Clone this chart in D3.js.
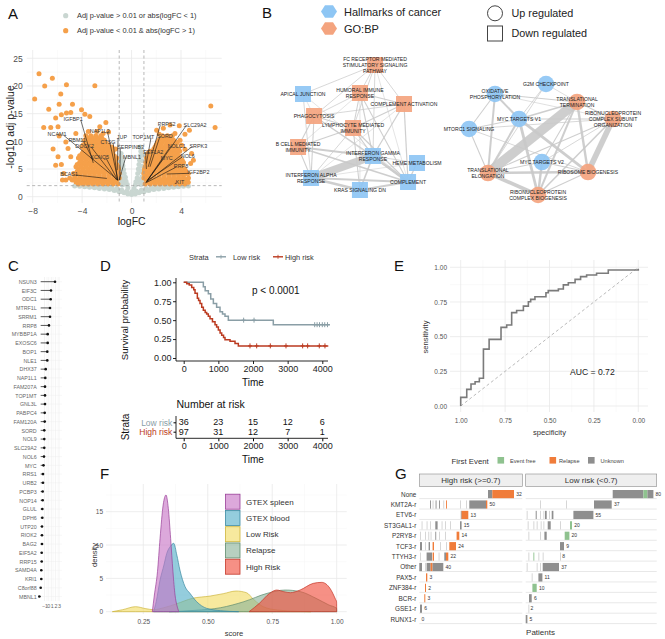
<!DOCTYPE html>
<html><head><meta charset="utf-8">
<script src="https://cdn.jsdelivr.net/npm/d3@7"></script>
<style>body{margin:0;background:#fff} svg{display:block;font-family:"Liberation Sans",Arial,sans-serif}</style>
</head><body><svg id="fig" width="665" height="639"></svg>
<script>
// ================= DATA =================
// Panel A: volcano (logFC, -log10 adj p)
const volcanoGrey = [[-4.6,1.95],[-4.2,1.9],[-3.8,1.8],[-3.4,1.7],[-3.0,1.6],[-2.6,1.5],[-2.2,1.4],[-1.8,1.3],[-1.4,1.1],[-1.0,0.9],[-0.6,0.7],[-0.3,0.5],[0,0.4],[0.3,0.5],[0.6,0.7],[1.0,0.9],[1.4,1.1],[1.8,1.3],[2.2,1.4],[2.6,1.5],[3.0,1.6],[3.4,1.7],[3.8,1.8],[4.2,1.9],[4.6,1.95],
[-3.6,1.95],[-3.2,1.9],[-2.8,1.9],[-2.4,1.85],[-2.0,1.8],[-1.6,1.7],[-1.2,1.5],[-0.8,1.2],[-0.4,1.0],[0,0.9],[0.4,1.0],[0.8,1.2],[1.2,1.5],[1.6,1.7],[2.0,1.8],[2.4,1.85],[2.8,1.9],[3.2,1.9],[3.6,1.95],
[-2.8,1.75],[-2.0,1.55],[-1.6,1.45],[-1.2,1.2],[-0.8,0.95],[0.8,0.95],[1.2,1.2],[1.6,1.45],[2.0,1.55],[2.8,1.75],
[-0.85,7.8],[-0.8,7.0],[-0.75,6.3],[-0.7,5.6],[-0.65,4.9],[-0.6,4.2],[-0.5,3.5],[-0.45,2.8],[-0.35,2.2],[-0.3,1.6],[-0.95,6.5],[-0.95,5.0],[-0.9,4.0],[-0.95,3.0],[-0.85,2.4],[-0.75,2.1],[-0.9,5.8],[-0.85,3.4],[-0.7,2.9],[-0.6,2.3],
[0.7,9.0],[0.75,8.2],[0.7,7.4],[0.65,6.6],[0.6,5.8],[0.55,5.0],[0.5,4.2],[0.45,3.4],[0.35,2.7],[0.3,2.1],[0.2,1.5],[0.9,7.5],[0.9,6.5],[0.85,5.5],[0.9,4.5],[0.85,3.6],[0.9,2.7],[0.75,2.2],[0.6,2.6],[0.7,3.2],[0.75,4.6]];
const volcanoOrangeSparse = [[-7.49,22.2],[-6.41,21.4],[-7.03,20.0],[-7.84,17.65],[-5.27,20.2],[-5.73,18.55],[-2.97,20.06],[-6.70,15.8],[-7.11,12.5],[-6.54,12.5],[-5.86,16.7],[-5.68,14.8],[-4.78,16.7],[-4.92,15.2],[-4.05,15.7],[-3.78,14.9],[-5.27,15.1],[-6.14,14.2],[-5.95,12.65],[-5.86,10.96],[-6.35,8.6],[-5.95,7.2],[-6.14,5.7],[-5.68,5.8],[-5.49,4.2],[-5.32,3.0],[-5.59,3.0],[-4.46,4.2],[-5.14,8.7],[-4.92,7.2],[-5.32,9.9],[-4.51,11.4],[-3.38,14.5],[-2.08,13.4],[-2.57,12.65],[-1.86,11.7],[-2.30,11.4],
[6.41,16.4],[6.76,12.5],[3.86,12.8],[4.68,12.0],[4.32,11.3],[3.51,11.4],[4.32,8.55],[4.86,7.8],[4.78,6.0],[5.0,6.6],[4.46,4.2],[3.92,3.0],[4.59,2.6],[2.03,12.0],[2.24,11.3],[2.57,12.35],[3.11,12.95],[3.92,10.2],[4.05,9.3],[3.59,9.0]];
const volcanoOrangeRows = [
 {p:2.3, fc:[-1.1,-1.5,-1.9,-2.3,-2.7,-3.1,-3.5,-3.9,-4.3, 1.1,1.5,1.9,2.3,2.7,3.1,3.5,3.9,4.3]},
 {p:2.65, fc:[-1.3,-1.7,-2.1,-2.5,-2.9,-3.3,-3.7,-4.1,-4.5, 1.3,1.7,2.1,2.5,2.9,3.3,3.7,4.1,4.5]},
 {p:3.0, fc:[-1.2,-1.6,-2.0,-2.4,-2.8,-3.2,-3.6,-4.0,-4.4,-4.8, 1.2,1.6,2.0,2.4,2.8,3.2,3.6,4.0,4.4]},
 {p:3.4, fc:[-1.0,-1.4,-1.8,-2.2,-2.6,-3.0,-3.4,-3.8,-4.2,-4.6,-5.0, 1.0,1.4,1.8,2.2,2.6,3.0,3.4,3.8,4.2,4.6]},
 {p:3.8, fc:[-1.1,-1.4,-1.8,-2.2,-2.6,-3.0,-3.4,-3.8,-4.2,-4.6, 1.1,1.4,1.8,2.2,2.6,3.0,3.4,3.8,4.2]},
 {p:4.2, fc:[-1.0,-1.4,-1.8,-2.2,-2.6,-3.0,-3.4,-3.8,-4.2,-4.7, 1.0,1.4,1.8,2.2,2.6,3.0,3.4,3.8,4.2,4.6]},
 {p:4.6, fc:[-1.2,-1.6,-2.0,-2.4,-2.8,-3.2,-3.6,-4.0,-4.4, 1.05,1.2,1.6,2.0,2.4,2.8,3.2,3.6,4.0,4.4]},
 {p:5.0, fc:[-1.05,-1.5,-1.9,-2.3,-2.7,-3.1,-3.5,-3.9,-4.3, 1.05,1.5,1.9,2.3,2.7,3.1,3.5,3.9,4.3]},
 {p:5.4, fc:[-1.1,-1.3,-1.7,-2.1,-2.5,-2.9,-3.3,-3.7,-4.1,-4.5, 1.1,1.3,1.7,2.1,2.5,2.9,3.3,3.7,4.1]},
 {p:5.8, fc:[-1.2,-1.6,-2.0,-2.4,-2.8,-3.2,-3.6,-4.0,-4.4, 1.2,1.6,2.0,2.4,2.8,3.2,3.6,4.0]},
 {p:6.2, fc:[-1.4,-1.8,-2.2,-2.6,-3.0,-3.4,-3.8,-4.2, 1.15,1.4,1.8,2.2,2.6,3.0,3.4,3.8,4.2]},
 {p:6.6, fc:[-1.3,-1.7,-2.1,-2.5,-2.9,-3.3,-3.7,-4.1, 1.3,1.7,2.1,2.5,2.9,3.3,3.7,4.1]},
 {p:7.0, fc:[-1.2,-1.5,-1.9,-2.3,-2.7,-3.1,-3.5,-3.9,-4.3, 1.2,1.5,1.9,2.3,2.7,3.1,3.5,3.9]},
 {p:7.4, fc:[-1.4,-1.8,-2.2,-2.6,-3.0,-3.4,-3.8,-4.2, 1.4,1.8,2.2,2.6,3.0,3.4,3.8]},
 {p:7.8, fc:[-1.6,-2.0,-2.4,-2.8,-3.2,-3.6,-4.0, 1.3,1.7,2.1,2.5,2.9,3.3,3.7]},
 {p:8.2, fc:[-1.5,-1.9,-2.3,-2.7,-3.1,-3.5,-3.9, 1.5,1.9,2.3,2.7,3.1,3.5,3.9]},
 {p:8.6, fc:[-1.3,-1.7,-2.1,-2.5,-2.9,-3.3,-3.7, 1.8,2.2,2.6,3.0,3.4,3.8]},
 {p:9.0, fc:[-1.6,-2.0,-2.4,-2.8,-3.2,-3.6,-4.0, 1.9,2.3,2.7,3.1,3.5]},
 {p:9.4, fc:[-1.9,-2.3,-2.7,-3.1,-3.5,-3.9, 2.0,2.4,2.8,3.2,3.6]},
 {p:9.8, fc:[-2.1,-2.5,-2.9,-3.3,-3.7, 2.1,2.5,2.9,3.3,3.7]},
 {p:10.2, fc:[-2.2,-2.6,-3.0,-3.4,-3.8, 2.2,2.6,3.0,3.4]},
 {p:10.6, fc:[-2.4,-2.8,-3.2,-3.6, 2.4,2.8,3.2]},
 {p:11.0, fc:[-2.5,-2.9,-3.3,-3.7, 2.5,2.9,3.3]},
 {p:11.8, fc:[-2.8,-3.5]}];
const volcanoLabels = [
 {g:"IGFBP1",lx:-4.73,ly:14.0,px:-3.1,py:6.1},{g:"NCAM1",lx:-6.03,ly:11.3,px:-1.1,py:3.0},
 {g:"RBM11",lx:-4.4,ly:10.2,px:-3.1,py:6.6},{g:"NAP1L3",lx:-2.57,ly:11.9,px:-1.1,py:3.0},
 {g:"CTSG",lx:-1.9,ly:9.8,px:-1.15,py:3.0},{g:"DOCK2",lx:-3.8,ly:9.2,px:-1.2,py:3.0},
 {g:"KCNQ5",lx:-2.57,ly:7.1,px:-1.1,py:2.9},{g:"BCAS1",lx:-5.05,ly:4.1,px:-2.0,py:3.3},
 {g:"JUP",lx:-0.78,ly:10.8,px:-1.16,py:4.8},{g:"SERPINB3",lx:-0.08,ly:8.9,px:-0.95,py:3.0},
 {g:"MBNL1",lx:0.03,ly:7.2,px:-1.0,py:3.0},
 {g:"TOP1MT",lx:0.95,ly:10.8,px:1.2,py:6.0},{g:"PRPS2",lx:2.84,ly:13.1,px:1.35,py:5.4},
 {g:"SLC29A2",lx:5.14,ly:13.0,px:1.16,py:2.5},{g:"SORD",lx:2.7,ly:11.0,px:1.49,py:5.4},
 {g:"NOLC1",lx:3.65,ly:9.2,px:1.2,py:2.7},{g:"SRPK3",lx:5.4,ly:9.2,px:1.14,py:2.5},
 {g:"EEF1A2",lx:1.76,ly:8.0,px:1.2,py:5.0},{g:"MYC",lx:2.85,ly:6.9,px:1.3,py:3.0},
 {g:"NOL6",lx:4.55,ly:7.4,px:1.2,py:2.8},{g:"RRP8",lx:4.0,ly:5.5,px:1.25,py:2.6},
 {g:"IGF2BP2",lx:5.4,ly:4.4,px:2.84,py:4.1},{g:"KIT",lx:3.92,ly:2.6,px:3.5,py:2.4}];

// Panel B: enrichment networks (layout coordinates 0..1)
const netLeftNodes = [
 {id:"FC",src:"GO",lx:0.654,ly:0.0,label:["FC RECEPTOR MEDIATED","STIMULATORY SIGNALING","PATHWAY"]},
 {id:"AJ",src:"HM",lx:0.10,ly:0.232,label:["APICAL JUNCTION"]},
 {id:"HU",src:"GO",lx:0.538,ly:0.224,label:["HUMORAL IMMUNE","RESPONSE"]},
 {id:"CA",src:"GO",lx:0.877,ly:0.312,label:["COMPLEMENT ACTIVATION"]},
 {id:"PH",src:"GO",lx:0.185,ly:0.408,label:["PHAGOCYTOSIS"]},
 {id:"LY",src:"GO",lx:0.485,ly:0.504,label:["LYMPHOCYTE MEDIATED","IMMUNITY"]},
 {id:"BC",src:"GO",lx:0.062,ly:0.656,label:["B CELL MEDIATED","IMMUNITY"]},
 {id:"IG",src:"HM",lx:0.638,ly:0.728,label:["INTERFERON GAMMA","RESPONSE"]},
 {id:"HM",src:"HM",lx:0.977,ly:0.784,label:["HEME METABOLISM"]},
 {id:"IA",src:"HM",lx:0.162,ly:0.904,label:["INTERFERON ALPHA","RESPONSE"]},
 {id:"CO",src:"HM",lx:0.908,ly:0.936,label:["COMPLEMENT"]},
 {id:"KR",src:"HM",lx:0.538,ly:1.0,label:["KRAS SIGNALING DN"]}];
const netLeftEdges = [["FC","AJ",1],["FC","PH",1],["FC","HU",1],["FC","LY",1],["FC","CA",1],["FC","IG",1],["FC","CO",0.7],
 ["HU","PH",1],["HU","LY",1.3],["HU","CA",1.3],["HU","IG",1.5],["HU","CO",1.3],["HU","BC",0.7],["HU","KR",0.7],
 ["CA","PH",1],["CA","LY",1.3],["CA","IG",1.5],["CA","CO",1.5],["CA","IA",0.7],
 ["PH","LY",1.3],["PH","BC",1.3],["PH","IA",1.3],["PH","IG",1.3],["PH","CO",0.7],
 ["LY","BC",1.5],["LY","IG",1.5],["LY","CO",1.5],["LY","KR",1.3],["LY","IA",1],
 ["BC","IG",2.5],["BC","IA",1.3],["BC","CO",2],["AJ","IA",1],["AJ","PH",0.7],["AJ","CO",0.7],
 ["IG","IA",10],["IG","CO",3.5],["IG","KR",2],["IG","HM",1],["IA","KR",3],["IA","CO",2.5],["KR","CO",2.5],["HM","CO",1.5],["HM","IA",0.7]];
const netRightNodes = [
 {id:"G2",src:"HM",lx:0.54,ly:0.0,label:["G2M CHECKPOINT"]},
 {id:"OX",src:"HM",lx:0.20,ly:0.09,label:["OXIDATIVE","PHOSPHORYLATION"]},
 {id:"TT",src:"GO",lx:0.747,ly:0.162,label:["TRANSLATIONAL","TERMINATION"]},
 {id:"RS",src:"GO",lx:0.987,ly:0.315,label:["RIBONUCLEOPROTEIN","COMPLEX SUBUNIT","ORGANIZATION"]},
 {id:"M1",src:"HM",lx:0.36,ly:0.315,label:["MYC TARGETS V1"]},
 {id:"MT",src:"HM",lx:0.027,ly:0.405,label:["MTORC1 SIGNALING"]},
 {id:"M2",src:"HM",lx:0.513,ly:0.703,label:["MYC TARGETS V2"]},
 {id:"TE",src:"GO",lx:0.153,ly:0.802,label:["TRANSLATIONAL","ELONGATION"]},
 {id:"RB",src:"GO",lx:0.82,ly:0.793,label:["RIBOSOME BIOGENESIS"]},
 {id:"RC",src:"GO",lx:0.487,ly:1.0,label:["RIBONUCLEOPROTEIN","COMPLEX BIOGENESIS"]}];
const netRightEdges = [["TT","TE",12],["RS","RB",7],["TE","RC",4.5],["M1","RC",3.5],["M1","RB",3.5],["TT","RC",2.5],["TT","RB",3],["TE","RB",3],
 ["OX","M1",2.5],["OX","TE",2.5],["OX","TT",1.3],["OX","MT",1.3],["MT","M1",1.3],["MT","TE",1.3],["MT","RS",1],["M1","TT",2],["M1","RS",1.3],["M1","TE",2.5],
 ["M1","G2",1],["G2","TE",1],["G2","TT",0.8],["M2","RC",3],["M2","TT",1.3],["M2","RS",1],["M2","TE",1.3],["RS","TE",1.3],["RS","RC",2],["RS","TT",1.3],
 ["RB","RC",1.3],["MT","RB",1],["OX","RS",0.8],["M2","RB",1.3]];

// Panel C: lollipop
const cGenes = ["NSUN3","EIF3C","ODC1","MTRF1L","SRRM1","RRP8","MYBBP1A","EXOSC6","BOP1","NLE1","DHX37","NAP1L1","FAM207A","TOP1MT","GNL3L","PABPC4","FAM120A","SORD","NOL9","SLC29A2","NOL6","MYC","RRS1","URB2","PCBP3","NOP14","GLUL","DPH6","UTP20","RIOK2","BAG2","EIF5A2","RRP15","SAMD4A","KRI1","C8orf88","MBNL1"];
const cValues = [1.9,0.79,0.71,0.52,0.52,0.24,-0.12,-0.12,-0.23,-0.23,-0.67,-0.78,-0.86,-0.86,-0.86,-0.94,-0.94,-1.06,-1.06,-1.06,-1.14,-1.28,-1.41,-1.41,-1.5,-1.5,-1.6,-1.6,-1.69,-1.69,-1.69,-1.77,-1.77,-1.88,-1.88,-2.05,-2.43];
const cTicks = [-1,0,1,2,3];

// Panel D: Kaplan-Meier
const kmLowTime = [0,567,620,711,780,856,950,1048,1120,1192,1288,2586,4220];
const kmLowSurv = [1,0.94,0.89,0.85,0.78,0.72,0.67,0.61,0.58,0.55,0.50,0.44,0.44];
const kmHighTime = [0,87,160,231,290,327,394,430,471,520,567,620,663,710,760,830,904,950,1000,1050,1096,1150,1192,1337,1481,1577,4173];
const kmHighSurv = [1,0.98,0.965,0.93,0.9,0.855,0.79,0.76,0.72,0.67,0.63,0.6,0.58,0.55,0.52,0.48,0.44,0.41,0.37,0.33,0.30,0.27,0.24,0.22,0.19,0.16,0.16];
const kmLowCensor = [1730,2030,3780,3850,3920,4000,4070,4150];
const kmHighCensor = [1913,2106,2500,2952,3433,3577,3913,4077];
const riskTimes = [0,1000,2000,3000,4000];
const riskLow = [36,23,15,12,6];
const riskHigh = [97,31,12,7,1];

// Panel E: ROC
const rocSpec = [1,1,0.966,0.966,0.942,0.942,0.919,0.919,0.895,0.895,0.872,0.872,0.84,0.84,0.773,0.773,0.741,0.741,0.713,0.713,0.685,0.685,0.647,0.647,0.619,0.619,0.606,0.606,0.582,0.582,0.52,0.52,0.507,0.507,0.45,0.45,0.422,0.422,0.394,0.394,0.356,0.356,0.325,0.325,0.291,0.291,0.235,0.235,0.169,0.169,0,0];
const rocSens = [0,0.0625,0.0625,0.12,0.12,0.159,0.159,0.175,0.175,0.2,0.2,0.41,0.41,0.48,0.48,0.567,0.567,0.584,0.584,0.673,0.673,0.688,0.688,0.72,0.72,0.752,0.752,0.769,0.769,0.788,0.788,0.817,0.817,0.832,0.832,0.844,0.844,0.873,0.873,0.889,0.889,0.913,0.913,0.933,0.933,0.945,0.945,0.957,0.957,0.981,0.981,0.99];
const aucValue = 0.72;

// Panel F: densities (score, density)
const fGroups = ["GTEX spleen","GTEX blood","Low Risk","Relapse","High Risk"];
const fSpleen = [[0.285,0],[0.293,2.5],[0.305,6],[0.315,11],[0.327,16],[0.338,17.5],[0.347,15.5],[0.356,11],[0.365,6],[0.373,2.5],[0.38,1],[0.388,0]];
const fBlood = [[0.29,0],[0.30,1.5],[0.315,4.75],[0.33,7],[0.341,8.75],[0.355,9.8],[0.368,10.25],[0.38,8.5],[0.392,6.25],[0.412,3.75],[0.431,2.75],[0.457,1.5],[0.496,0.5],[0.55,0.15],[0.62,0]];
const fLow = [[0.13,0],[0.17,0.3],[0.22,0.75],[0.26,0.45],[0.29,0.3],[0.33,0.6],[0.38,1.2],[0.44,2.0],[0.51,2.35],[0.56,2.7],[0.61,3.1],[0.65,2.85],[0.68,1.75],[0.715,0.75],[0.77,0.25],[0.85,0.05],[0.9,0]];
const fRelapse = [[0.35,0],[0.45,0.2],[0.55,0.6],[0.64,1.5],[0.73,2.75],[0.8,3.25],[0.86,3.0],[0.92,2.0],[0.97,1.0],[0.9995,0.5],[1.0,0]];
const fHigh = [[0.66,0],[0.70,1.25],[0.74,2.75],[0.767,3.25],[0.795,3.0],[0.82,2.85],[0.858,3.25],[0.909,4.25],[0.942,4.4],[0.974,3.5],[0.995,1.9],[0.9995,1.5],[1.0,0]];

// Panel G: fusion oncoprint (patient index spans)
const gRows = ["None","KMT2A-r","ETV6-r","ST3GAL1-r","P2RY8-r","TCF3-r","TTYH3-r","Other","PAX5-r","ZNF384-r","BCR-r","GSE1-r","RUNX1-r"];
const gCountsHigh = [32,50,13,15,14,24,22,40,3,2,3,6,0];
const gCountsLow = [80,37,55,20,20,9,8,37,11,10,6,2,5];
const gEvents = ["Event free","Relapse","Unknown"];
// [row, start, end, event]  E=Event free R=Relapse U=Unknown S=unknown (sparse)
const gSegHigh = [[0,68.7,73,"U"],[0,73,94.7,"R"],
 [1,10.7,10.7,"U"],[1,13.3,13.3,"S"],[1,16.3,16.3,"U"],[1,19.7,19.7,"U"],[1,24,24,"S"],[1,26.7,26.7,"R"],[1,40.7,40.7,"S"],[1,46.7,46.7,"S"],[1,50,66.7,"U"],[1,66.7,68,"R"],
 [2,41.5,41.5,"U"],[2,42.3,49,"R"],
 [3,2.3,2.3,"S"],[3,7.3,7.3,"S"],[3,10.7,10.7,"S"],[3,16,18.3,"U"],[3,22.3,22.3,"S"],[3,25.7,25.7,"S"],[3,30.7,30.7,"S"],[3,40.7,42.3,"U"],
 [4,0.7,0.7,"S"],[4,5.7,5.7,"S"],[4,9,9,"S"],[4,11.3,11.3,"S"],[4,16,16,"U"],[4,19.7,19.7,"S"],[4,25.7,25.7,"S"],[4,37.3,40,"R"],
 [5,0.7,2.7,"U"],[5,5.7,5.7,"S"],[5,9.3,10.7,"U"],[5,13.3,14.7,"R"],[5,20.7,20.7,"S"],[5,26.7,26.7,"S"],[5,30,36.7,"R"],
 [6,0.7,0.7,"S"],[6,7.3,12.7,"U"],[6,13.3,14.7,"R"],[6,19.3,19.3,"S"],[6,25,26.7,"U"],[6,26.7,29,"R"],
 [7,0,2.7,"U"],[7,5.7,5.7,"S"],[7,7.3,11.3,"U"],[7,11.3,13.3,"R"],[7,13.3,24,"U"],
 [8,6.7,8,"R"],[9,5.7,6.7,"R"],[10,5,6,"R"],[11,0.7,2.7,"U"]];
const gSegLow = [[0,87,117.7,"U"],[0,117.7,121.7,"E"],[0,121.7,127.7,"U"],
 [1,14.3,14.3,"S"],[1,40.3,40.3,"S"],[1,68.3,86,"U"],
 [2,1,1,"S"],[2,10,11,"U"],[2,14.3,14.3,"S"],[2,17.7,17.7,"S"],[2,19.3,21,"U"],[2,23.3,23.3,"S"],[2,26,27.7,"U"],[2,47.7,67.7,"U"],
 [3,2,2,"S"],[3,7.7,7.7,"S"],[3,11,11,"S"],[3,15,15,"S"],[3,17.7,17.7,"S"],[3,22,25,"U"],[3,34.3,34.3,"S"],[3,44.3,46.3,"E"],
 [4,2.7,2.7,"S"],[4,14.3,14.3,"S"],[4,18.7,21,"U"],[4,39,43.7,"E"],
 [5,34.3,38.3,"U"],
 [6,2.7,2.7,"S"],[6,7.7,7.7,"E"],[6,12.7,12.7,"S"],[6,17,17,"S"],[6,34.3,34.3,"S"],
 [7,1,1,"S"],[7,11,11,"S"],[7,14.3,14.3,"S"],[7,17,33.3,"U"],
 [8,6,6,"S"],[8,12.7,16.7,"U"],[9,6.7,11,"E"],[10,3.3,6,"U"],[11,2.7,2.7,"S"],[12,0,1.7,"U"]];

// ================= DRAW =================
const FONT = '"Liberation Sans", Arial, Helvetica, sans-serif';
const svg = d3.select("#fig").attr("font-family", FONT);
svg.append("rect").attr("width",665).attr("height",639).attr("fill","#fff");

function txt(g,x,y,s,o={}){
  const t=g.append("text").attr("x",x).attr("y",y).text(s)
   .attr("font-size",o.size||8).attr("fill",o.fill||"#333").attr("text-anchor",o.anchor||"start");
  if(o.dy) t.attr("dy",o.dy);
  if(o.rotate) t.attr("transform",`rotate(${o.rotate},${x},${y})`);
  if(o.weight) t.attr("font-weight",o.weight);
  return t;
}
function styleAxis(ax,size,fill){
  ax.attr("font-family",FONT).attr("font-size",size);
  ax.selectAll("text").attr("fill",fill);
}
function gridLines(g,x,y,xs,ys,x0,x1,y0,y1,col,w){
  g.selectAll(null).data(xs).enter().append("line").attr("x1",d=>x(d)).attr("x2",d=>x(d)).attr("y1",y0).attr("y2",y1).attr("stroke",col).attr("stroke-width",w);
  g.selectAll(null).data(ys).enter().append("line").attr("y1",d=>y(d)).attr("y2",d=>y(d)).attr("x1",x0).attr("x2",x1).attr("stroke",col).attr("stroke-width",w);
}

// ---------- Panel A ----------
{
 const g=svg.append("g");
 txt(g,8,19,"A",{size:15,fill:"#111"});
 const orange="#f5a04a", grey="#c9d6d1";
 g.append("circle").attr("cx",65.7).attr("cy",15.7).attr("r",2.6).attr("fill",grey);
 txt(g,77,18.4,"Adj p-value > 0.01 or abs(logFC < 1)",{size:7.4});
 g.append("circle").attr("cx",65.7).attr("cy",30.7).attr("r",2.6).attr("fill",orange);
 txt(g,77,33.4,"Adj p-value < 0.01 & abs(logFC > 1)",{size:7.4});
 const x=d3.scaleLinear().domain([-8,4]).range([32.7,181]);
 const y=d3.scaleLinear().domain([0,25]).range([196.7,58.3]);
 const X0=26.7,X1=221.7,Y0=50,Y1=203;
 gridLines(g,x,y,[-6,-2,2,6],[2.5,7.5,12.5,17.5,22.5],X0,X1,Y0,Y1,"#f4f4f4",0.5);
 gridLines(g,x,y,[-8,-4,0,4],[0,5,10,15,20,25],X0,X1,Y0,Y1,"#e8e8e8",0.8);
 const orangePts = volcanoOrangeSparse.concat(volcanoOrangeRows.flatMap(r=>r.fc.map(f=>[f,r.p])));
 g.selectAll(null).data(volcanoGrey).enter().append("circle").attr("cx",d=>x(d[0])).attr("cy",d=>y(d[1])).attr("r",2.5).attr("fill",grey);
 g.selectAll(null).data(orangePts).enter().append("circle").attr("cx",d=>x(d[0])).attr("cy",d=>y(d[1])).attr("r",2.5).attr("fill",orange);
 [-1,1].forEach(v=>g.append("line").attr("x1",x(v)).attr("x2",x(v)).attr("y1",Y0).attr("y2",Y1).attr("stroke","#999").attr("stroke-width",0.7).attr("stroke-dasharray","3,2.5"));
 g.append("line").attr("x1",X0).attr("x2",X1).attr("y1",y(2)).attr("y2",y(2)).attr("stroke","#999").attr("stroke-width",0.7).attr("stroke-dasharray","3,2.5");
 volcanoLabels.forEach(d=>{
   const lx=x(d.lx), ly=y(d.ly), px=x(d.px), py=y(d.py);
   const w=d.g.length*3.2/2; const sx = lx + (px>lx?w:-w)*0.8;
   g.append("line").attr("x1",sx).attr("y1",ly+1).attr("x2",px).attr("y2",py).attr("stroke","#111").attr("stroke-width",0.6);
   txt(g,lx,ly,d.g,{size:5.4,fill:"#333",anchor:"middle",dy:"0.35em"});
 });
 const ax=g.append("g").attr("transform",`translate(0,${Y1})`).call(d3.axisBottom(x).tickValues([-8,-4,0,4]).tickSize(0).tickPadding(5));
 ax.select(".domain").remove(); styleAxis(ax,8.5,"#4d4d4d");
 const ay=g.append("g").attr("transform",`translate(${X0},0)`).call(d3.axisLeft(y).tickValues([0,5,10,15,20,25]).tickSize(0).tickPadding(4));
 ay.select(".domain").remove(); styleAxis(ay,8.5,"#4d4d4d");
 txt(g,131.7,224.5,"logFC",{size:10.5,anchor:"middle",fill:"#222"});
 txt(g,10,127,"-log10 adj p-value",{size:10.5,anchor:"middle",rotate:-90,fill:"#222",dy:"0.35em"});
}

// ---------- Panel B ----------
{
 const g=svg.append("g");
 txt(g,262,17.5,"B",{size:15,fill:"#111"});
 const col={HM:"#8ec6f4",GO:"#f4a47f"};
 const hex=(cx,cy,r)=>d3.range(6).map(i=>[cx+r*Math.cos(Math.PI/3*i),cy+r*0.9*Math.sin(Math.PI/3*i)]);
 g.append("polygon").attr("points",hex(329,11.5,8).join(" ")).attr("fill",col.HM);
 txt(g,344,15.5,"Hallmarks of cancer",{size:11,fill:"#222"});
 g.append("polygon").attr("points",hex(329,28.5,8).join(" ")).attr("fill",col.GO);
 txt(g,344,32.5,"GO:BP",{size:11,fill:"#222"});
 g.append("circle").attr("cx",495).attr("cy",13.3).attr("r",7.5).attr("fill","none").attr("stroke","#444").attr("stroke-width",1);
 txt(g,511.5,17.2,"Up regulated",{size:10.8,fill:"#222"});
 g.append("rect").attr("x",487.5).attr("y",26).attr("width",15).attr("height",15).attr("fill","none").attr("stroke","#444").attr("stroke-width",1);
 txt(g,511.5,37.3,"Down regulated",{size:10.8,fill:"#222"});
 const wScale=d3.scaleLinear().domain([0,10]).range([0,8]);
 function drawNet(nodes,edges,xs,ys,shape){
   const m=new Map(nodes.map(n=>[n.id,n]));
   const ge=g.append("g");
   edges.forEach(e=>{const a=m.get(e[0]),b=m.get(e[1]);
     ge.append("line").attr("x1",xs(a.lx)).attr("y1",ys(a.ly)).attr("x2",xs(b.lx)).attr("y2",ys(b.ly)).attr("stroke","#c9c9c9").attr("stroke-width",wScale(e[2])).attr("stroke-opacity",0.9);});
   nodes.forEach(n=>{const cx=xs(n.lx),cy=ys(n.ly);
     if(shape==="square") g.append("rect").attr("x",cx-8).attr("y",cy-8).attr("width",16).attr("height",16).attr("fill",col[n.src]).attr("fill-opacity",0.92);
     else g.append("circle").attr("cx",cx).attr("cy",cy).attr("r",8.3).attr("fill",col[n.src]).attr("fill-opacity",0.92);
   });
   nodes.forEach(n=>{const cx=xs(n.lx),cy=ys(n.ly); const k=n.label.length;
     n.label.forEach((l,i)=>txt(g,cx,cy+(i-(k-1)/2)*5.8,l,{size:5.1,fill:"#222",anchor:"middle",dy:"0.35em"}));
   });
 }
 drawNet(netLeftNodes,netLeftEdges,d3.scaleLinear().domain([0,1]).range([290,420]),d3.scaleLinear().domain([0,1]).range([65,190]),"square");
 drawNet(netRightNodes,netRightEdges,d3.scaleLinear().domain([0,1]).range([465,615]),d3.scaleLinear().domain([0,1]).range([84,195]),"circle");
}

// ---------- Panel C ----------
{
 const g=svg.append("g");
 txt(g,8,271,"C",{size:15,fill:"#111"});
 const x=d3.scaleLinear().domain([-1,3]).range([44.5,59]);
 const y=d3.scalePoint().domain(cGenes).range([281.7,596.5]);
 const X0=40.2,X1=62,Y0=277,Y1=601;
 gridLines(g,x,y,[-0.5,0.5,1.5,2.5],[],X0,X1,Y0,Y1,"#f3f3f3",0.4);
 gridLines(g,x,y,cTicks,[],X0,X1,Y0,Y1,"#e6e6e6",0.5);
 g.selectAll(null).data(cGenes).enter().append("line").attr("x1",X0).attr("x2",X1).attr("y1",d=>y(d)).attr("y2",d=>y(d)).attr("stroke","#eeeeee").attr("stroke-width",0.4);
 g.selectAll(null).data(cGenes).enter().append("line").attr("x1",x(-2.05)).attr("x2",(d,i)=>x(cValues[i])).attr("y1",d=>y(d)).attr("y2",d=>y(d)).attr("stroke","#111").attr("stroke-width",0.7);
 g.selectAll(null).data(cGenes).enter().append("circle").attr("cx",(d,i)=>x(cValues[i])).attr("cy",d=>y(d)).attr("r",1.3).attr("fill","#111");
 const ay=g.append("g").attr("transform",`translate(${X0},0)`).call(d3.axisLeft(y).tickSize(0).tickPadding(3.5));
 ay.select(".domain").remove(); styleAxis(ay,5.3,"#666");
 const ax=g.append("g").attr("transform",`translate(0,${Y1})`).call(d3.axisBottom(x).tickValues(cTicks).tickSize(0).tickPadding(3).tickFormat(d3.format("d")));
 ax.select(".domain").remove(); styleAxis(ax,5.3,"#666");
}

// ---------- Panel D ----------
{
 const g=svg.append("g");
 txt(g,100,271,"D",{size:15,fill:"#111"});
 const cLow="#8a9ea6", cHigh="#bb3a20";
 txt(g,189,259.5,"Strata",{size:7.4,fill:"#333"});
 [[216,cLow,"Low risk",233],[273,cHigh,"High risk",285]].forEach(([lx,c,l,tx])=>{
   g.append("line").attr("x1",lx).attr("x2",lx+10).attr("y1",256.8).attr("y2",256.8).attr("stroke",c).attr("stroke-width",1.4);
   g.append("line").attr("x1",lx+5).attr("x2",lx+5).attr("y1",254.8).attr("y2",258.8).attr("stroke",c).attr("stroke-width",0.8);
   txt(g,tx,259.5,l,{size:7.4,fill:"#333"});
 });
 const x=d3.scaleLinear().domain([0,4000]).range([183.7,322.3]);
 const y=d3.scaleLinear().domain([0,1]).range([358,282.3]);
 const line=d3.line().x(d=>x(d[0])).y(d=>y(d[1])).curve(d3.curveStepAfter);
 const low=kmLowTime.map((t,i)=>[t,kmLowSurv[i]]), high=kmHighTime.map((t,i)=>[t,kmHighSurv[i]]);
 g.append("path").attr("d",line(low)).attr("fill","none").attr("stroke",cLow).attr("stroke-width",1.5);
 g.append("path").attr("d",line(high)).attr("fill","none").attr("stroke",cHigh).attr("stroke-width",1.5);
 const survAt=(T,S,t)=>{let s=S[0];T.forEach((tt,i)=>{if(tt<=t)s=S[i];});return s;};
 [[kmLowCensor,kmLowTime,kmLowSurv,cLow],[kmHighCensor,kmHighTime,kmHighSurv,cHigh]].forEach(([C,T,S,c])=>{
   C.forEach(t=>{const cx=x(t),cy=y(survAt(T,S,t));
     g.append("line").attr("x1",cx).attr("x2",cx).attr("y1",cy-2.5).attr("y2",cy+2.5).attr("stroke",c).attr("stroke-width",1);
     g.append("line").attr("x1",cx-2).attr("x2",cx+2).attr("y1",cy).attr("y2",cy).attr("stroke",c).attr("stroke-width",1);});
 });
 const ay=g.append("g").attr("transform","translate(176,0)").call(d3.axisLeft(y).tickValues([0,0.25,0.5,0.75,1]).tickFormat(d3.format(".2f")).tickSize(3).tickPadding(1.5));
 ay.select(".domain").remove(); styleAxis(ay,9,"#222"); ay.selectAll("line").attr("stroke","#222");
 g.append("line").attr("x1",176).attr("x2",176).attr("y1",278).attr("y2",361).attr("stroke","#111").attr("stroke-width",0.9);
 const ax=g.append("g").attr("transform","translate(0,361)").call(d3.axisBottom(x).tickValues(riskTimes).tickFormat(d3.format("d")).tickSize(3).tickPadding(1.5));
 ax.select(".domain").remove(); styleAxis(ax,9,"#222"); ax.selectAll("line").attr("stroke","#222");
 g.append("line").attr("x1",176).attr("x2",328).attr("y1",361).attr("y2",361).attr("stroke","#111").attr("stroke-width",0.9);
 txt(g,252,294,"p < 0.0001",{size:10,fill:"#111"});
 txt(g,253,385.5,"Time",{size:10,fill:"#111",anchor:"middle"});
 txt(g,125,320,"Survival probability",{size:9.6,fill:"#111",anchor:"middle",rotate:-90,dy:"0.35em"});
 txt(g,176.5,408,"Number at risk",{size:10.5,fill:"#111"});
 const yr=d3.scalePoint().domain(["Low risk","High risk"]).range([422.3,431.7]);
 [["Low risk",riskLow,cLow],["High risk",riskHigh,cHigh]].forEach(([k,vals,c])=>{
   vals.forEach((v,i)=>txt(g,x(riskTimes[i]),yr(k),v,{size:9,fill:"#111",anchor:"middle",dy:"0.35em"}));
 });
 const ar=g.append("g").attr("transform","translate(176,0)").call(d3.axisLeft(yr).tickSize(2.5).tickPadding(1.2));
 ar.select(".domain").remove(); styleAxis(ar,8.5,"#222");
 ar.selectAll("text").attr("fill",d=>d==="Low risk"?cLow:cHigh);
 g.append("line").attr("x1",176).attr("x2",176).attr("y1",416).attr("y2",438.3).attr("stroke","#111").attr("stroke-width",0.9);
 const ax2=g.append("g").attr("transform","translate(0,438.3)").call(d3.axisBottom(x).tickValues(riskTimes).tickFormat(d3.format("d")).tickSize(3).tickPadding(1.5));
 ax2.select(".domain").remove(); styleAxis(ax2,9,"#222");
 g.append("line").attr("x1",176).attr("x2",328).attr("y1",438.3).attr("y2",438.3).attr("stroke","#111").attr("stroke-width",0.9);
 txt(g,253,463,"Time",{size:10,fill:"#111",anchor:"middle"});
 txt(g,125,427,"Strata",{size:10,fill:"#111",anchor:"middle",rotate:-90,dy:"0.35em"});
}

// ---------- Panel E ----------
{
 const g=svg.append("g");
 txt(g,394,271,"E",{size:15,fill:"#111"});
 const x=d3.scaleLinear().domain([1,0]).range([460.7,638.3]);
 const y=d3.scaleLinear().domain([0,1]).range([406,267.3]);
 const X0=450,X1=648,Y0=260,Y1=412;
 gridLines(g,x,y,[0.875,0.625,0.375,0.125],[0.125,0.375,0.625,0.875],X0,X1,Y0,Y1,"#f4f4f4",0.5);
 gridLines(g,x,y,[1,0.75,0.5,0.25,0],[0,0.25,0.5,0.75,1],X0,X1,Y0,Y1,"#e9e9e9",0.8);
 g.append("line").attr("x1",x(1)).attr("y1",y(0)).attr("x2",x(0)).attr("y2",y(1)).attr("stroke","#a8a8a8").attr("stroke-width",0.8).attr("stroke-dasharray","3,2.5");
 const pts=rocSpec.map((s,i)=>[s,rocSens[i]]);
 g.append("path").attr("d",d3.line().x(d=>x(d[0])).y(d=>y(d[1]))(pts)).attr("fill","none").attr("stroke","#7b7b7b").attr("stroke-width",1.6);
 const ax=g.append("g").attr("transform",`translate(0,${Y1})`).call(d3.axisBottom(x).tickValues([1,0.75,0.5,0.25,0]).tickFormat(d3.format(".2f")).tickSize(0).tickPadding(6));
 ax.select(".domain").remove(); styleAxis(ax,6.5,"#555");
 const ay=g.append("g").attr("transform",`translate(${X0},0)`).call(d3.axisLeft(y).tickValues([0,0.25,0.5,0.75,1]).tickFormat(d3.format(".2f")).tickSize(0).tickPadding(3));
 ay.select(".domain").remove(); styleAxis(ay,6.5,"#555");
 txt(g,549.5,434.5,"specificity",{size:7.6,fill:"#333",anchor:"middle"});
 txt(g,425,337,"sensitivity",{size:7.6,fill:"#333",anchor:"middle",rotate:-90,dy:"0.35em"});
 txt(g,570,374.8,`AUC = ${aucValue}`,{size:8.6,fill:"#222"});
}

// ---------- Panel F ----------
{
 const g=svg.append("g");
 txt(g,100,479,"F",{size:15,fill:"#111"});
 const x=d3.scaleLinear().domain([0.25,1]).range([143.3,336.7]);
 const y=d3.scaleLinear().domain([0,15]).range([611.7,511.7]);
 const X0=106,X1=346.7,Y0=484,Y1=614;
 gridLines(g,x,y,[0.125,0.375,0.625,0.875],[2.5,7.5,12.5,17.5],X0,X1,Y0,Y1,"#f4f4f4",0.5);
 gridLines(g,x,y,[0.25,0.5,0.75,1],[0,5,10,15],X0,X1,Y0,Y1,"#e9e9e9",0.8);
 const fill={"GTEX spleen":"#c772c5","GTEX blood":"#52aec8","Low Risk":"#f2dc62","Relapse":"#8bb39a","High Risk":"#f04c3a"};
 const stroke={"GTEX spleen":"#9a3f98","GTEX blood":"#3b8aa2","Low Risk":"#cdb53b","Relapse":"#5f8c6e","High Risk":"#c4382a"};
 const data={"GTEX spleen":fSpleen,"GTEX blood":fBlood,"Low Risk":fLow,"Relapse":fRelapse,"High Risk":fHigh};
 const area=d3.area().x(d=>x(d[0])).y0(y(0)).y1(d=>y(d[1])).curve(d3.curveMonotoneX);
 ["Low Risk","Relapse","High Risk","GTEX blood","GTEX spleen"].forEach(k=>{
   g.append("path").attr("d",area(data[k])).attr("fill",fill[k]).attr("fill-opacity",0.62).attr("stroke",stroke[k]).attr("stroke-width",0.7);
 });
 const ax=g.append("g").attr("transform",`translate(0,${Y1})`).call(d3.axisBottom(x).tickValues([0.25,0.5,0.75,1]).tickFormat(d3.format(".2f")).tickSize(0).tickPadding(5.5));
 ax.select(".domain").remove(); styleAxis(ax,6.5,"#555");
 const ay=g.append("g").attr("transform",`translate(${X0},0)`).call(d3.axisLeft(y).tickValues([0,5,10,15]).tickSize(0).tickPadding(3));
 ay.select(".domain").remove(); styleAxis(ay,6.5,"#555");
 txt(g,234,635.5,"score",{size:7.6,fill:"#333",anchor:"middle"});
 txt(g,94,555,"density",{size:7.6,fill:"#333",anchor:"middle",rotate:-90,dy:"0.35em"});
 const ly=d3.scalePoint().domain(fGroups).range([501.7,566.7]);
 fGroups.forEach(k=>{
   g.append("rect").attr("x",225.5).attr("y",ly(k)-7.5).attr("width",14.5).attr("height",15).attr("fill",fill[k]).attr("fill-opacity",0.62).attr("stroke",stroke[k]).attr("stroke-width",0.8);
   txt(g,246,ly(k),k,{size:8,fill:"#333",dy:"0.35em"});
 });
}

// ---------- Panel G ----------
{
 const g=svg.append("g");
 txt(g,395,478.5,"G",{size:15,fill:"#111"});
 const col={E:"#8fc28f",R:"#f07c3a",U:"#8e8e8e",S:"#d2d2d2"};
 const evKey={"Event free":"E","Relapse":"R","Unknown":"U"};
 txt(g,451.5,463.5,"First Event",{size:7.8,fill:"#333"});
 [[497.5,"Event free",510],[549.5,"Relapse",559],[588,"Unknown",600.5]].forEach(([kx,l,tx])=>{
   g.append("rect").attr("x",kx).attr("y",457).attr("width",6.6).attr("height",6.6).attr("fill",col[evKey[l]]);
   txt(g,tx,463,l,{size:5.6,fill:"#444"});
 });
 const y=d3.scalePoint().domain(gRows).range([494,619]);
 const facets=[{lab:"High risk (>=0.7)",x:d3.scaleLinear().domain([0,103]).range([419.3,522.3]),seg:gSegHigh,cnt:gCountsHigh},
               {lab:"Low risk (<0.7)",x:d3.scaleLinear().domain([0,131]).range([525.7,656.7]),seg:gSegLow,cnt:gCountsLow}];
 facets.forEach(f=>{
   const [a,b]=f.x.range();
   g.append("rect").attr("x",a).attr("y",474).attr("width",b-a).attr("height",12.5).attr("fill","#efefef").attr("stroke","#8a8a8a").attr("stroke-width",0.6);
   txt(g,(a+b)/2,480.3,f.lab,{size:8,fill:"#333",anchor:"middle",dy:"0.35em"});
   gRows.forEach(r=>g.append("line").attr("x1",a).attr("x2",b).attr("y1",y(r)+4.6).attr("y2",y(r)+4.6).attr("stroke","#d6d6d6").attr("stroke-width",0.6));
   f.seg.forEach(s=>{
     const x0=f.x(s[1]), w=Math.max(0.9,f.x(s[2])-f.x(s[1]));
     g.append("rect").attr("x",x0).attr("y",y(gRows[s[0]])-4).attr("width",w).attr("height",8.2).attr("fill",col[s[3]]);
   });
   gRows.forEach((r,i)=>{
     const ends=f.seg.filter(s=>s[0]===i).map(s=>s[2]); const e=ends.length?d3.max(ends):0;
     txt(g,f.x(e+2.2),y(r),f.cnt[i],{size:5,fill:"#333",dy:"0.35em"});
   });
 });
 const ay=g.append("g").attr("transform","translate(419.3,0)").call(d3.axisLeft(y).tickSize(0).tickPadding(3));
 ay.select(".domain").remove(); styleAxis(ay,6.4,"#333");
 txt(g,540.5,634.5,"Patients",{size:8,fill:"#333",anchor:"middle"});
}
</script></body></html>
